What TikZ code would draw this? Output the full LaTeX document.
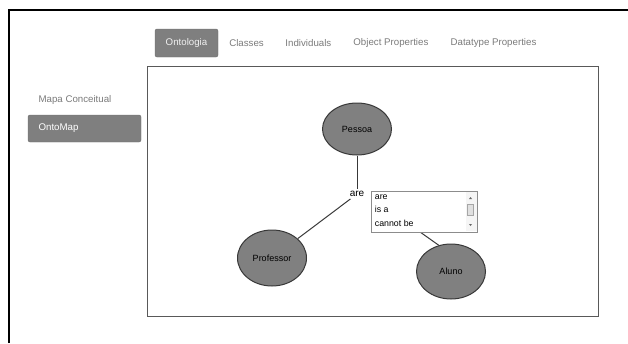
\documentclass[tikz,border=0pt]{standalone}
\usepackage{fontspec}
\setmainfont{Liberation Sans}
\usetikzlibrary{positioning, shapes.geometric, calc}

\definecolor{btngray}{HTML}{7F7F7F}
\definecolor{tabtext}{HTML}{7A7A7A}
\definecolor{classfill}{HTML}{808080}
\definecolor{classline}{HTML}{383838}

\begin{document}
\begin{tikzpicture}[
        x=1pt, y=-1pt,
        tab/.style={text=tabtext, font=\fontsize{9.7}{11}\selectfont, inner sep=0pt},
        activebtn/.style={draw=btngray!85!black, fill=btngray, rounded corners=2pt, text=white!94!black, font=\fontsize{9.7}{11}\selectfont, inner sep=0pt},
        classnode/.style={ellipse, draw=classline, line width=1pt, fill=classfill, inner sep=0pt, minimum width=69pt, font=\fontsize{9}{10}\selectfont},
        link/.style={draw=classline, line width=1pt},
        item/.style={anchor=west, inner sep=0pt, font=\fontsize{8.8}{10}\selectfont}
    ]
    \useasboundingbox (0,0) rectangle (628,343);
    % Frame
    \draw[line width=2.2pt] (9,343) -- (9,10) -- (628,10);

    % Tabs
    \node[activebtn, minimum width=63pt, minimum height=28pt] (ontologia) at (186.5,43) {Ontologia};
    \node[tab] (classes) at (246.5,43) {Classes};
    \node[tab] (individuals) at (308.4,43) {Individuals};
    \node[tab] (objprop) at (390.9,43) {Object Properties};
    \node[tab] (dataprop) at (493.5,43) {Datatype Properties};

    % Side menu
    \node[tab, anchor=west] (mapa) at (38.4,100) {Mapa Conceitual};
    \node[activebtn, minimum width=113pt, minimum height=27pt] (ontomapbtn) at (84.5,128.5) {};
    \node[anchor=west, inner sep=0pt, text=white, font=\fontsize{9.7}{11}\selectfont] (ontomap) at (38.4,128) {OntoMap};

    % Canvas
    \draw[draw=black!65, line width=1.2pt] (147.5,66.5) rectangle (598.5,316.5);

    % Nodes
    \node[classnode, minimum height=52pt] (pessoa) at (357,129) {Pessoa};
    \node[classnode, minimum height=56pt] (professor) at (272,258) {Professor};
    \node[classnode, minimum height=55pt] (aluno) at (451,271.5) {Aluno};
    \node[inner sep=2pt, font=\fontsize{10}{11}\selectfont] (are) at (357,194) {are};

    \draw[link] (pessoa) -- (are);
    \draw[link] (are) -- (professor);
    \draw[link, shorten <=8pt] (are.east) -- (aluno.115);

    % Relation list
    \node[draw=black!45, fill=white, line width=0.8pt, anchor=north west, minimum width=106pt, minimum height=40.7pt, inner sep=0pt] (list) at (370.7,191) {};
    \fill[black!4] (466,191.5) rectangle (476.5,231.3);
    \draw[draw=black!35, fill=black!12, line width=0.6pt] (467.3,204.3) rectangle (473.5,215.7);
    \fill[black!60] (469,199) -- (472,199) -- (470.5,197) -- cycle;
    \fill[black!60] (469,224) -- (472,224) -- (470.5,226) -- cycle;
    \node[item] (itemare) at (374.7,197.3) {are};
    \node[item] (itemisa) at (374.7,209.8) {is a};
    \node[item] (itemcannot) at (374.7,223) {cannot be};
\end{tikzpicture}
\end{document}
